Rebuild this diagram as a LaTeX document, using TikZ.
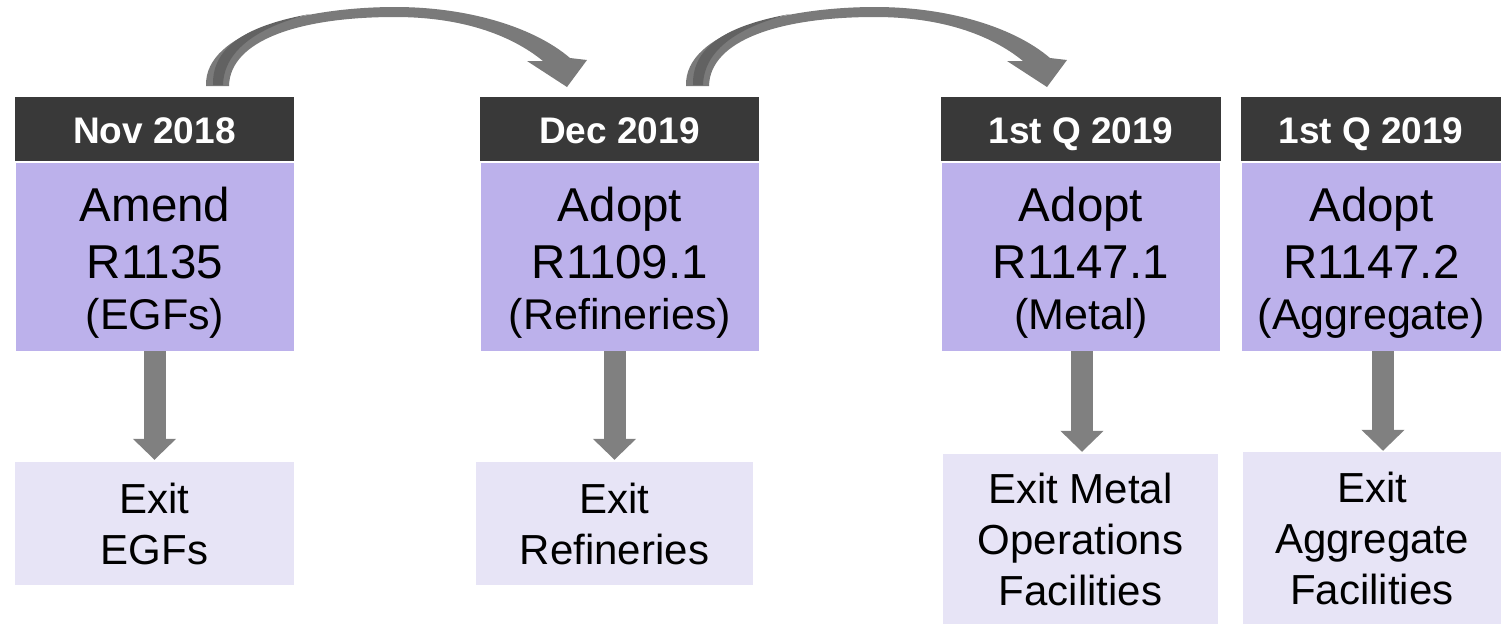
\documentclass[tikz,border=0pt]{standalone}
\usepackage{fontspec}
\setmainfont{Liberation Sans}
\usetikzlibrary{arrows.meta,calc}
\definecolor{hdr}{RGB}{57,57,57}
\definecolor{bod}{RGB}{188,177,235}
\definecolor{ext}{RGB}{231,228,246}
\definecolor{arr}{RGB}{128,128,128}
\definecolor{carr}{RGB}{122,122,122}
\definecolor{cdark}{RGB}{98,98,98}
\newcommand\bodyfontA{\fontsize{47.5}{57}\selectfont}
\newcommand\bodyfontB{\fontsize{43}{51}\selectfont}
\newcommand\topstrut{\rule{0pt}{45pt}}
\newcommand\bendarrow{%
  \fill[carr] (206,86) .. controls (204,30) and (310,7) .. (395,7)
    .. controls (470,7) and (535,28) .. (570,58)
    -- (587,60) -- (567,87) -- (527,61) -- (543,61)
    .. controls (510,34) and (460,17) .. (395,17)
    .. controls (300,17) and (230,40) .. (229,86) -- cycle;
  \fill[cdark] (213,85) .. controls (212,45) and (250,25) .. (310,14)
    .. controls (262,26) and (224,48) .. (223,85) -- cycle;}
\begin{document}
\begin{tikzpicture}[x=1pt,y=-1pt,
  hdrbox/.style={fill=hdr, text=white, font=\fontsize{37}{44}\selectfont\bfseries,
    minimum height=64pt, inner sep=0pt, text height=28pt, text depth=0pt},
  bodbox/.style={fill=bod, minimum height=188pt, align=center, inner sep=0pt, font=\bodyfontA},
  extbox/.style={fill=ext, align=center, inner sep=0pt, font=\fontsize{42}{51}\selectfont},
  downarr/.style={draw=arr, line width=22pt, -{Triangle[width=42pt,length=21pt]}}]
\useasboundingbox (0,0) rectangle (1501,625);
% headers
\node[hdrbox, minimum width=279pt] (h1) at (154.5,129) {Nov 2018};
\node[hdrbox, minimum width=279pt] (h2) at (619.5,129) {Dec 2019};
\node[hdrbox, minimum width=280pt] (h3) at (1081,129) {1st Q 2019};
\node[hdrbox, minimum width=260pt] (h4) at (1371,129) {1st Q 2019};
% bodies
\node[bodbox, minimum width=278pt] (b1) at (155,257) {\topstrut Amend\\R1135\\[-6pt]\bodyfontB (EGFs)};
\node[bodbox, minimum width=278pt] (b2) at (620,257) {\topstrut Adopt\\R1109.1\\[-6pt]\bodyfontB (Refineries)};
\node[bodbox, minimum width=278pt] (b3) at (1081,257) {\topstrut Adopt\\R1147.1\\[-6pt]\bodyfontB (Metal)};
\node[bodbox, minimum width=259pt] (b4) at (1371.5,257) {\topstrut Adopt\\R1147.2\\[-6pt]\bodyfontB (Aggregate)};
% exits
\node[extbox, minimum width=279pt, minimum height=123pt] (e1) at (154.5,523.5) {Exit\\EGFs};
\node[extbox, minimum width=277pt, minimum height=123pt] (e2) at (614.5,523.5) {Exit\\Refineries};
\node[extbox, minimum width=275pt, minimum height=170pt] (e3) at (1080.5,539) {Exit Metal\\Operations\\Facilities};
\node[extbox, minimum width=258pt, minimum height=172pt] (e4) at (1372,538) {Exit\\Aggregate\\Facilities};
% down arrows
\draw[downarr] (b1.south -| e1.north) -- ([yshift=2pt]e1.north);
\draw[downarr] (b2.south -| e2.north) -- ([yshift=2pt]e2.north);
\draw[downarr] ([xshift=1.5pt]b3.south -| e3.north) -- ([xshift=1.5pt,yshift=2pt]e3.north);
\draw[downarr] ([xshift=11pt]b4.south -| e4.north) -- ([xshift=11pt,yshift=1pt]e4.north);
% curved arrows
\bendarrow
\begin{scope}[xshift=480pt]
\bendarrow
\end{scope}
\end{tikzpicture}
\end{document}
